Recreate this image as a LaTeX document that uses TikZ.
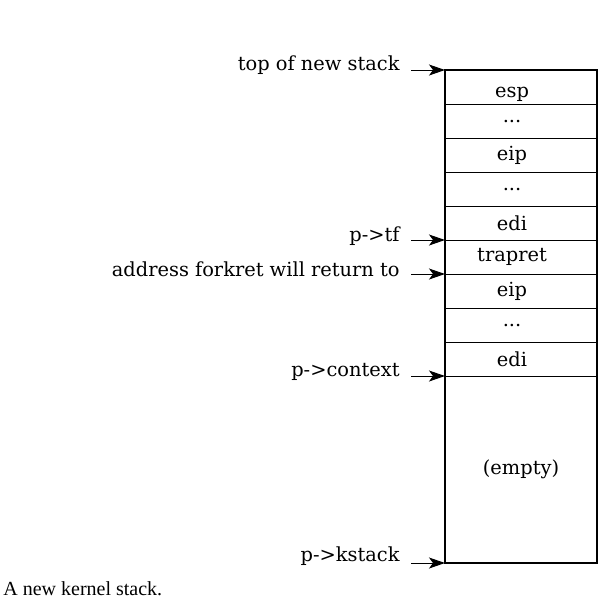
\documentclass[tikz,border=0pt]{standalone}
\usepackage{fontspec}
\setmainfont{DejaVu Serif}
\newfontfamily\capfont{Liberation Serif}
\usetikzlibrary{positioning, arrows.meta}

\begin{document}
\begin{tikzpicture}[
        x=0.5pt, y=-0.5pt,
        every node/.style={font=\fontsize{9.7}{11}\selectfont},
        slot/.style={draw, line width=0.5pt, outer sep=0pt, inner sep=0pt,
            minimum width=76pt, minimum height=17pt},
        cell/.style={slot, execute at end node={\hspace{9pt}}},
        lbl/.style={anchor=east, inner sep=0pt},
        ptr/.style={-{Stealth[length=8pt, width=5.5pt, inset=2pt]}, line width=0.5pt}
    ]
        \useasboundingbox (0,0) rectangle (616,602);
        % the stack, top to bottom
        \node[cell] (c1) at (521,87) {\raisebox{-5pt}[0pt][0pt]{esp}};
        \node[cell, below=0pt of c1] (c2) {...};
        \node[cell, below=0pt of c2] (c3) {eip};
        \node[cell, below=0pt of c3] (c4) {...};
        \node[cell, below=0pt of c4] (c5) {edi};
        \node[cell, below=0pt of c5] (c6) {trapret};
        \node[cell, below=0pt of c6] (c7) {eip};
        \node[cell, below=0pt of c7] (c8) {...};
        \node[cell, below=0pt of c8] (c9) {edi};
        \node[slot, below=0pt of c9, minimum height=93.5pt] (c10) {(empty)};
        \draw[line width=0.8pt] (c1.north west) rectangle (c10.south east);

        % pointers into it
        \coordinate (a1) at ([xshift=-17pt]c1.north west);
        \coordinate (a2) at ([xshift=-17pt]c6.north west);
        \coordinate (a3) at ([xshift=-17pt]c7.north west);
        \coordinate (a4) at ([xshift=-17pt]c10.north west);
        \coordinate (a5) at ([xshift=-17pt]c10.south west);
        \node[lbl] (l1) at (400,65) {top of new stack};
        \node[lbl] (l2) at (400,236) {p->tf};
        \node[lbl] (l3) at (400,269) {address forkret will return to};
        \node[lbl] (l4) at (400,372) {p->context};
        \node[lbl] (l5) at (400,556) {p->kstack};
        \draw[ptr] (a1) -- (c1.north west);
        \draw[ptr] (a2) -- (c6.north west);
        \draw[ptr] (a3) -- (c7.north west);
        \draw[ptr] (a4) -- (c10.north west);
        \draw[ptr] (a5) -- (c10.south west);

        \node[anchor=west, inner sep=0pt, font=\capfont\fontsize{10}{11}\selectfont]
            (cap) at (3,589) {A new kernel stack.};
    \end{tikzpicture}
\end{document}
